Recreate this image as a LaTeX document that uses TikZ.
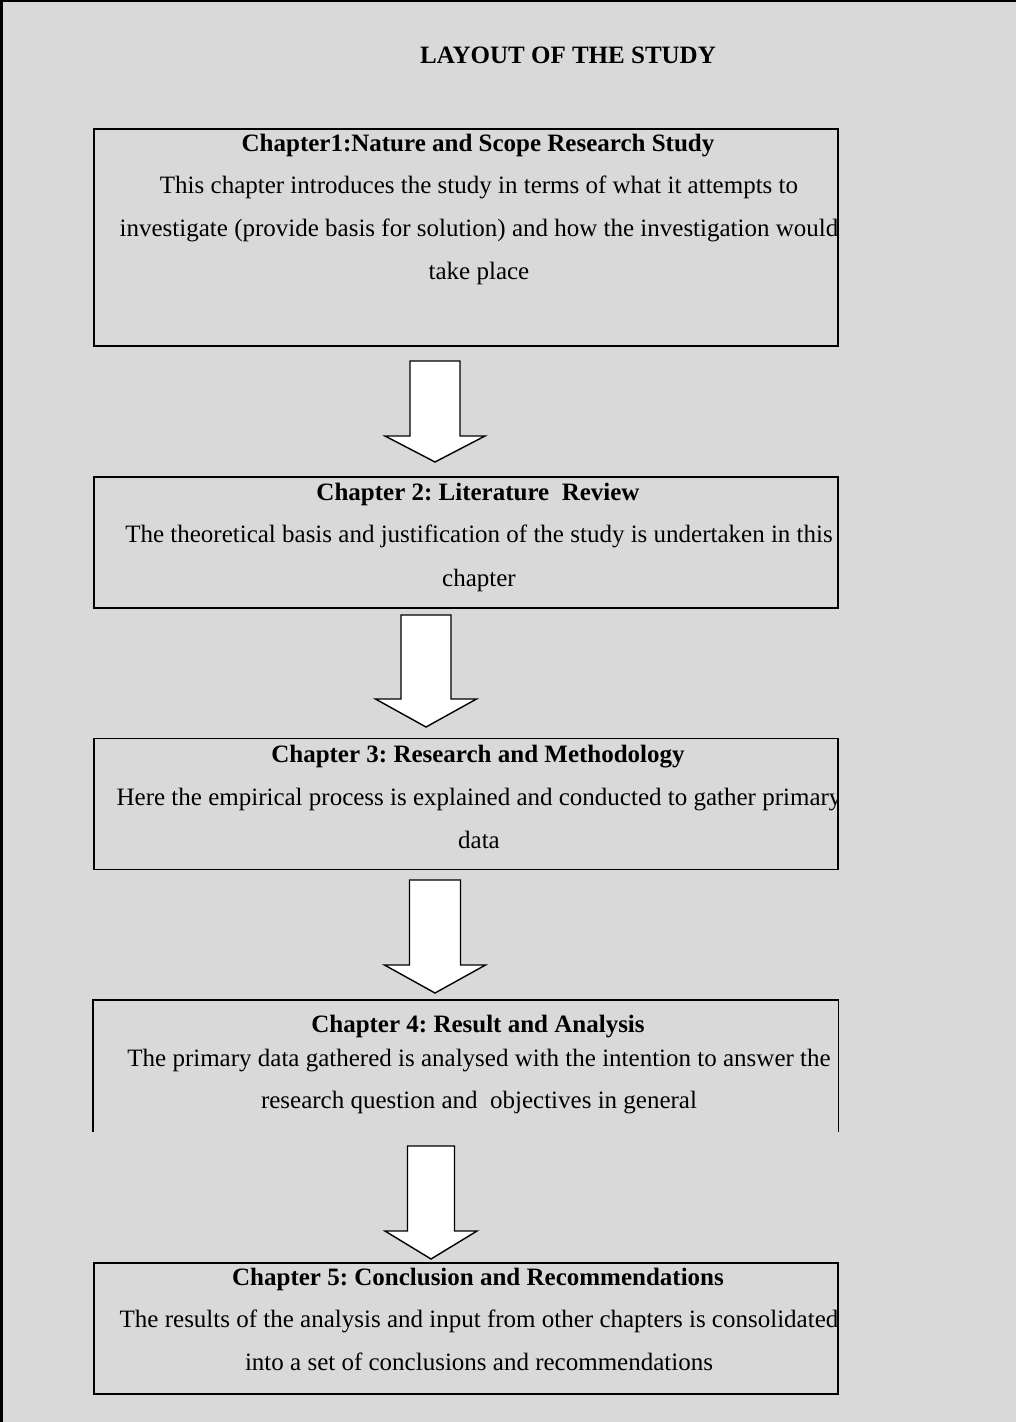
\documentclass[tikz,border=0pt]{standalone}
\usepackage{fontspec}
\setmainfont{Liberation Serif}
\usetikzlibrary{calc}
\definecolor{bg}{HTML}{D9D9D9}
\frenchspacing
\newcommand\blkarrow[7]{% name, cx, top, heady, tip, half shaft, half head
  \coordinate (#1top) at (#2,#3);
  \coordinate (#1tip) at (#2,#5);
  \draw[blockarrow] (#2-#6,#3) -- (#2+#6,#3) -- (#2+#6,#4) -- (#2+#7,#4)
    -- (#1tip) -- (#2-#7,#4) -- (#2-#6,#4) -- cycle;}
\begin{document}
\begin{tikzpicture}[x=0.5pt,y=-0.5pt,
  boxframe/.style={draw=black,line width=0.8pt,inner sep=0pt,anchor=north west,
    minimum width=372pt},
  blockarrow/.style={draw=black,fill=white,line width=0.7pt,line join=miter},
  hd/.style={anchor=base,inner sep=0pt,font=\fontsize{12.5}{14}\selectfont\bfseries},
  bd/.style={anchor=base,inner sep=0pt,font=\fontsize{12.5}{14}\selectfont}]
\useasboundingbox (0,0) rectangle (1016,1422);
\fill[bg] (0,0) rectangle (1016,1422);
\draw[line width=1.25pt] (1.25,1422) -- (1.25,1.25) -- (1016,1.25);

% boxes
\node[boxframe,minimum height=108.5pt] (ch1) at (93,128) {};
\node[boxframe,minimum height=65.5pt] (ch2) at (93,476) {};
\node[boxframe,minimum height=65.5pt] (ch3) at (93,737.5) {};
\node[boxframe,draw=none,minimum height=65pt] (ch4) at (93,1000) {};
\draw[line width=0.8pt] (ch4.south west) -- (ch4.north west) -- (ch4.north east) -- (ch4.south east);
\node[boxframe,minimum height=65.5pt] (ch5) at (93,1262) {};

% block arrows
\blkarrow{a1}{435}{361}{436}{462}{25}{50}
\blkarrow{a2}{426}{615}{699}{727}{25}{50.5}
\blkarrow{a3}{435}{880}{965}{993}{25.5}{50.5}
\blkarrow{a4}{431}{1146}{1231}{1259}{23.5}{46}

% texts
\begin{scope}
\clip (0,0) rectangle (836,1422);
\node[hd] (title) at (568,64) {LAYOUT OF THE STUDY};

\node[hd] (h1) at (478,152) {Chapter1:Nature and Scope Research Study};
\node[bd] (b1a) at (479,194) {This chapter introduces the study in terms of what it attempts to};
\node[bd] (b1b) at (479,237) {investigate (provide basis for solution) and how the investigation would};
\node[bd] (b1c) at (479,280) {take place};

\node[hd] (h2) at (478,500) {Chapter 2: Literature\ \ Review};
\node[bd] (b2a) at (479,542) {The theoretical basis and justification of the study is undertaken in this};
\node[bd] (b2b) at (479,586) {chapter};

\node[hd] (h3) at (478,762) {Chapter 3: Research and Methodology};
\node[bd] (b3a) at (479,805) {Here the empirical process is explained and conducted to gather primary};
\node[bd] (b3b) at (479,848) {data};

\node[hd] (h4) at (478,1032) {Chapter 4: Result and Analysis};
\node[bd] (b4a) at (479,1066) {The primary data gathered is analysed with the intention to answer the};
\node[bd] (b4b) at (479,1108) {research question and\ \ objectives in general};

\node[hd] (h5) at (478,1285) {Chapter 5: Conclusion and Recommendations};
\node[bd] (b5a) at (479,1327) {The results of the analysis and input from other chapters is consolidated};
\node[bd] (b5b) at (479,1370) {into a set of conclusions and recommendations};
\end{scope}
\end{tikzpicture}
\end{document}
